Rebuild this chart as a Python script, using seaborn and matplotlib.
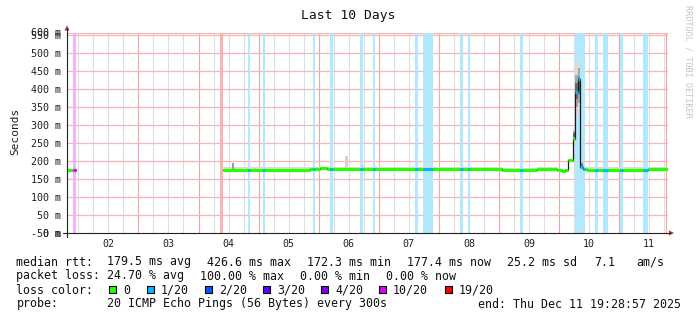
import numpy as np
import pandas as pd
import matplotlib
matplotlib.use("Agg")
import matplotlib.pyplot as plt
from matplotlib.patches import Rectangle, Polygon
from matplotlib.lines import Line2D
import seaborn as sns

# ---------------- data ----------------
t_start = "2025-12-01 19:28:57"
t_end = "2025-12-11 19:28:57"

seg_start = ["12-01 19:29", "12-01 21:53", "12-01 22:53", "12-04 08:35", "12-04 09:47",
             "12-04 19:46", "12-04 20:34", "12-05 01:45", "12-05 02:33", "12-05 20:31",
             "12-05 21:43", "12-05 22:31", "12-06 00:31", "12-06 03:19", "12-06 04:31",
             "12-06 05:42", "12-06 16:29", "12-06 17:41", "12-06 21:41", "12-06 22:29",
             "12-07 14:27", "12-07 15:39", "12-07 17:39", "12-07 21:38", "12-08 08:26",
             "12-08 09:37", "12-08 11:37", "12-08 12:25", "12-09 01:12", "12-09 08:23",
             "12-09 09:35", "12-09 15:10", "12-09 23:10", "12-10 01:09", "12-10 02:21",
             "12-10 03:33", "12-10 05:33", "12-10 06:21", "12-10 07:33", "12-10 08:21",
             "12-10 09:33", "12-10 10:21", "12-10 11:08", "12-10 14:20", "12-10 15:32",
             "12-10 17:32", "12-10 19:32", "12-11 00:19", "12-11 01:31", "12-11 09:30",
             "12-11 11:30"]
median_ms = [175.0, 175.0, np.nan, np.nan, 174.5, 174.5, 174.5, 174.5, 175.0, 178.0,
             178.0, 178.5, 180.0, 178.5, 178.5, 178.0, 178.0, 178.0, 178.0, 178.0,
             178.0, 178.0, 178.5, 178.0, 177.5, 177.5, 177.5, 177.5, 175.5, 175.5,
             174.5, 177.5, 174.5, 172.5, 175.0, 203.0, 261.0, 392.0, 427.0, 184.0,
             178.0, 177.0, 175.5, 175.5, 175.5, 175.5, 175.5, 175.5, 175.0, 176.0,
             177.4]
loss_cnt = [0, 10, 20, 19, 0, 1, 0, 1, 0, 0,
            1, 0, 0, 0, 1, 0, 1, 0, 1, 0,
            1, 0, 1, 0, 1, 0, 1, 0, 0, 1,
            0, 0, 0, 0, 0, 0, 0, 1, 1, 1,
            1, 0, 0, 1, 0, 1, 0, 1, 0, 1,
            0]
smoke_lo_ms = [175, 175, np.nan, np.nan, 174.5, 174.5, 174.5, 174.5, 175, 178,
               178, 178.5, 180, 178.5, 178.5, 178, 178, 178, 178, 178,
               178, 178, 178.5, 178, 177.5, 177.5, 177.5, 177.5, 175.5, 175.5,
               174.5, 177.5, 174.5, 172.5, 175, 201, 255, 320, 330, 180,
               177, 176, 175.5, 175.5, 175.5, 175.5, 175.5, 175.5, 175, 176,
               177]
smoke_hi_ms = [177, 177, np.nan, np.nan, 182, 181, 182, 181, 183, 183,
               182, 183, 183, 183, 182, 183, 186, 183, 182, 183,
               182, 183, 185, 183, 182, 184, 182, 183, 181, 180,
               180, 183, 179, 177, 179, 206, 290, 470, 490, 200,
               186, 183, 182, 181, 182, 181, 183, 181, 182, 181,
               182]

# isolated smoke spikes
spike_start = ["12-04 13:22", "12-06 10:30", "12-06 16:53"]
spike_end = ["12-04 14:10", "12-06 11:42", "12-06 18:05"]
spike_hi_ms = [195, 214, 190]
spike_shade = ["#9a9a9a", "#d4d4d4", "#d8d8d8"]

loss_levels = [0, 1, 2, 3, 4, 10, 19]
loss_labels = ["0", "1/20", "2/20", "3/20", "4/20", "10/20", "19/20"]
loss_colors = ["#26ff00", "#00b8ff", "#0059ff", "#5e00ff", "#7e00ff", "#dd00ff", "#ff0000"]

y_ticks_ms = [0, 50, 100, 150, 200, 250, 300, 350, 400, 450, 500, 550]
day_labels = ["02", "03", "04", "05", "06", "07", "08", "09", "10", "11"]

# ---------------- helpers ----------------
W, H = 697, 321
def fx(x): return x / W
def fy(y): return 1 - y / H

def to_time(s):
    return pd.to_datetime("2025-" + s)

def blend(c, a=0.33):
    r, g, b = matplotlib.colors.to_rgb(c)
    return (1 - a + a * r, 1 - a + a * g, 1 - a + a * b)

def loss_color(n):
    col = loss_colors[0]
    for lv, c in zip(loss_levels, loss_colors):
        if n >= lv:
            col = c
    return col

t0 = pd.to_datetime(t_start)
t1 = pd.to_datetime(t_end)
starts = [to_time(s) for s in seg_start]
ends = starts[1:] + [t1]
starts[0] = t0

df = pd.DataFrame({"start": starts, "end": ends, "median": np.array(median_ms) / 1000.0,
                   "loss": loss_cnt, "lo": np.array(smoke_lo_ms) / 1000.0,
                   "hi": np.array(smoke_hi_ms) / 1000.0})

# ---------------- figure ----------------
sns.set_theme(style="white")
plt.rcParams["font.family"] = ["DejaVu Sans Mono", "DejaVu Sans"]
mono = "DejaVu Sans Mono"

fig = plt.figure(figsize=(W / 100, H / 100), dpi=100, facecolor="white")
ax = fig.add_axes([fx(67), fy(233), (668 - 67) / W, 200 / H])
ax.set_facecolor("white")
ymax = 0.5556
ax.set_xlim(t0, t1)
ax.set_ylim(0, ymax)

# grid
minor_grid = "#dedede"
major_grid = "#f3a4a4"
hgrid = "#f6b6b6"
for t in pd.date_range("2025-12-01 00:00", "2025-12-12 00:00", freq="6h"):
    if t < t0 or t > t1:
        continue
    if t.hour == 0 and t.day >= 3:
        ax.axvline(t, color=major_grid, zorder=1, lw=0.8)
    else:
        ax.axvline(t, color=minor_grid, zorder=0.5, lw=0.8)
ax.hlines([v / 1000.0 for v in y_ticks_ms[1:]] + [ymax - 0.0008], t0, t1,
          colors=hgrid, lw=0.9, zorder=1)
ax.axvline(pd.to_datetime("2025-12-11 18:43"), color=major_grid, zorder=1, lw=0.8)

# loss bands
for _, r in df.iterrows():
    if 0 < r["loss"] < 20:
        ax.axvspan(r["start"], r["end"], color=blend(loss_color(r["loss"])), lw=0, zorder=2, alpha=0.92)

# smoke
for _, r in df.iterrows():
    if np.isnan(r["lo"]):
        continue
    lo, hi = r["lo"], r["hi"]
    span = hi - lo
    ax.fill_between([r["start"], r["end"]], lo, hi, color="#dcdcdc", lw=0, zorder=3)
    if span > 0.015:
        ax.fill_between([r["start"], r["end"]], lo + 0.2 * span, hi - 0.2 * span, color="#a8a8a8", lw=0, zorder=3)
        ax.fill_between([r["start"], r["end"]], lo + 0.35 * span, hi - 0.35 * span, color="#6a6a6a", lw=0, zorder=3)
for s, e, h, c in zip(spike_start, spike_end, spike_hi_ms, spike_shade):
    ax.fill_between([to_time(s), to_time(e)], 0.176, h / 1000.0, color=c, lw=0, zorder=3)

# black median line (steps), broken at missing data
pts = []
run = 0
for i, r in df.iterrows():
    if np.isnan(r["median"]):
        run += 1
        continue
    pts.append((r["start"], r["median"], run))
    pts.append((r["end"], r["median"], run))
line_df = pd.DataFrame(pts, columns=["time", "median", "run"])
for k, g in line_df.groupby("run"):
    sns.lineplot(data=g, x="time", y="median", ax=ax, color="#1a1a1a", lw=0.9,
                 estimator=None, sort=False, zorder=4)

# coloured median band
for _, r in df.iterrows():
    if np.isnan(r["median"]):
        continue
    ax.hlines(r["median"], r["start"], r["end"], colors=loss_color(r["loss"]),
              lw=2.3, zorder=5, capstyle="butt")

# axes decoration
for sp in ax.spines.values():
    sp.set_visible(False)
ax.set_xlabel("")
ax.set_ylabel("")
ax.set_yticks([v / 1000.0 for v in y_ticks_ms])
ax.set_yticklabels([f"{v} m" for v in y_ticks_ms], fontsize=7.2, family=mono, color="#202020")
noon = [pd.to_datetime(f"2025-12-{d} 12:00") for d in day_labels]
ax.set_xticks(noon)
ax.set_xticklabels(day_labels, fontsize=7.2, family=mono, color="#202020")
ax.tick_params(axis="both", length=0, pad=4.3)
ax.grid(False)

# overlapping extra axis labels (as drawn by rrdtool)
ax.text(-0.0099, ymax, "600 m", transform=ax.get_yaxis_transform(), ha="right", va="center",
        fontsize=7.2, family=mono, color="#202020")
ax.text(-0.0099, -0.002, "-50 m", transform=ax.get_yaxis_transform(), ha="right", va="center",
        fontsize=7.2, family=mono, color="#202020")

# axis lines and arrows (figure pixel coordinates)
axis_col = "#202020"
fig.add_artist(Line2D([fx(67), fx(67)], [fy(237), fy(29)], color=axis_col, lw=0.8))
fig.add_artist(Line2D([fx(63), fx(670)], [fy(233), fy(233)], color=axis_col, lw=0.8))
arrow_col = "#a03030"
fig.add_artist(Polygon([(fx(64.5), fy(30.5)), (fx(69.5), fy(30.5)), (fx(67), fy(25.5))],
                       closed=True, color=arrow_col, lw=0))
fig.add_artist(Polygon([(fx(669), fy(230.5)), (fx(669), fy(235.5)), (fx(674), fy(233))],
                       closed=True, color=arrow_col, lw=0))

# title, unit label, watermark
fig.text(fx(348.5), fy(15.5), "Last 10 Days", ha="center", va="center", fontsize=9.4, family=mono, color="#101010")
fig.text(fx(15), fy(131), "Seconds", rotation=90, ha="center", va="center", fontsize=8.0, family=mono, color="#202020")
fig.text(fx(688), fy(5), "RRDTOOL / TOBI OETIKER", rotation=270, ha="center", va="top",
         fontsize=6.1, family=mono, color="#c4c4c4")

# legend block
fs = 8.4
tc = "#101010"
def lt(x, y, s, ha="left"):
    fig.text(fx(x), fy(y), s, ha=ha, va="baseline", fontsize=fs, family=mono, color=tc)

lt(16.5, 265.5, "median rtt:")
for x, s in zip([107, 207, 307, 407, 507, 594, 636],
                ["179.5 ms avg", "426.6 ms max", "172.3 ms min", "177.4 ms now", "25.2 ms sd", "7.1", "am/s"]):
    lt(x, 265.5, s)
lt(16.5, 279.5, "packet loss:")
for x, s in zip([107, 200, 300, 386], ["24.70 % avg", "100.00 % max", "0.00 % min", "0.00 % now"]):
    lt(x, 279.5, s)
lt(16.5, 293.5, "loss color:")
box_x = [109, 147, 205, 263, 321, 379, 445]
for bx, lab, col in zip(box_x, loss_labels, loss_colors):
    fig.add_artist(Rectangle((fx(bx), fy(293)), 7 / W, 7 / H, transform=fig.transFigure,
                             facecolor=col, edgecolor="#000000", lw=0.8))
    lt(bx + 14, 293.5, lab)
lt(16.5, 307.5, "probe:")
lt(107, 307.5, "20 ICMP Echo Pings (56 Bytes) every 300s")
lt(681, 307.5, "end: Thu Dec 11 19:28:57 2025", ha="right")

fig.savefig("out.png", dpi=100, facecolor="white")
